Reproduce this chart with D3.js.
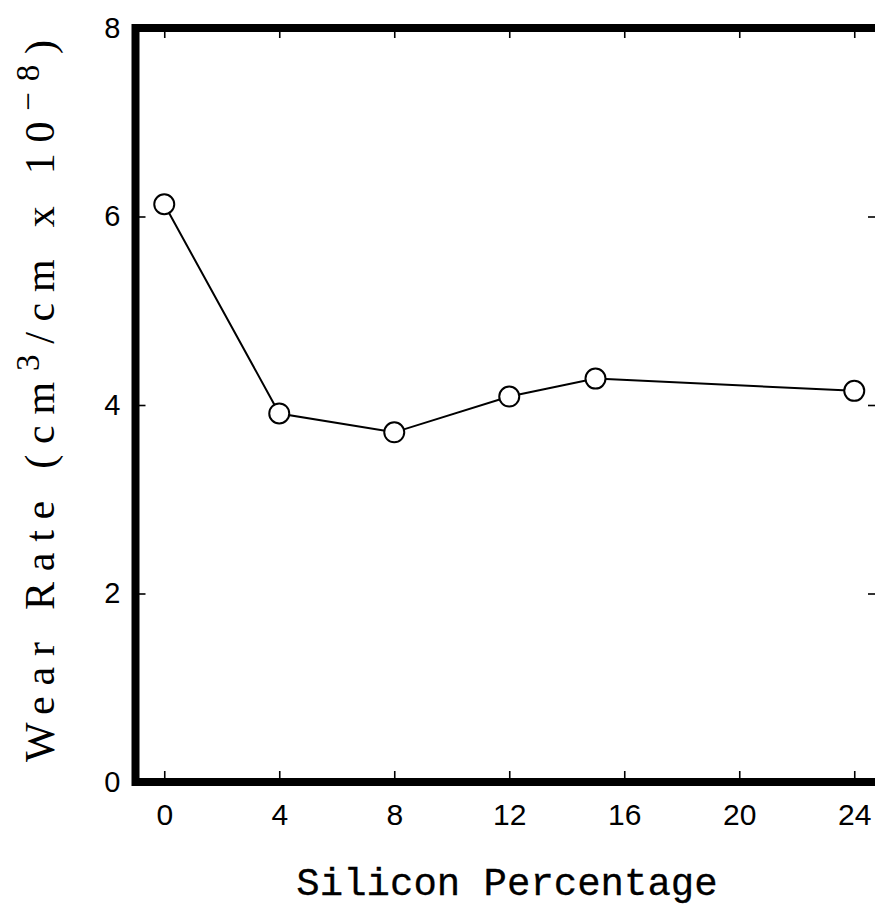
<!DOCTYPE html>
<html>
<head>
<meta charset="utf-8">
<script src="https://cdn.jsdelivr.net/npm/d3@7"></script>
<style>
  body { margin: 0; background: #fff; }
  svg { display: block; }
</style>
</head>
<body>
<script>
// wear rate vs silicon content
const silicon = [0, 4, 8, 12, 15, 24];
const wearRate = [6.13, 3.91, 3.71, 4.09, 4.28, 4.15];
const xTicks = [0, 4, 8, 12, 16, 20, 24];
const yTicks = [0, 2, 4, 6, 8];

const W = 875, H = 915;

const svg = d3.select('body').append('svg')
    .attr('width', W)
    .attr('height', H);

svg.append('rect').attr('width', W).attr('height', H).attr('fill', '#fff');

const x = d3.scaleLinear().domain([-1, 25]).range([135.5, 883]);
const y = d3.scaleLinear().domain([0, 8]).range([782, 28]);

const sansFont = '"Liberation Sans", Arial, sans-serif';

// inner ticks on all four sides
const axBottom = svg.append('g')
    .attr('transform', `translate(0,${y(0)})`)
    .call(d3.axisBottom(x).tickValues(xTicks).tickSize(-11).tickPadding(32));
const axTop = svg.append('g')
    .attr('transform', `translate(0,${y(8)})`)
    .call(d3.axisTop(x).tickValues(xTicks).tickSize(-10).tickFormat(''));
const axLeft = svg.append('g')
    .attr('transform', `translate(${x(-1)},0)`)
    .call(d3.axisLeft(y).tickValues(yTicks).tickSize(-10).tickPadding(15));
const axRight = svg.append('g')
    .attr('transform', `translate(${x(25)},0)`)
    .call(d3.axisRight(y).tickValues(yTicks).tickSize(-15).tickFormat(''));

[axBottom, axTop, axLeft, axRight].forEach(g => {
    g.select('.domain').remove();
    g.selectAll('.tick line').attr('stroke', '#000').attr('stroke-width', 1.6);
});

axBottom.selectAll('.tick text')
    .attr('font-family', sansFont)
    .attr('font-size', 30)
    .attr('fill', '#000')
    .attr('dy', '0.35em')
    .attr('y', 32);

axLeft.selectAll('.tick text')
    .attr('font-family', sansFont)
    .attr('font-size', 29)
    .attr('fill', '#000');

// heavy frame
svg.append('path')
    .attr('d', `M${x(25) + 20},${y(8)}H${x(-1)}V${y(0)}H${x(25) + 20}`)
    .attr('fill', 'none')
    .attr('stroke', '#000')
    .attr('stroke-width', 8)
    .attr('stroke-linejoin', 'miter');

// data line + open circles
const pts = silicon.map((s, i) => [s, wearRate[i]]);

svg.append('path')
    .datum(pts)
    .attr('fill', 'none')
    .attr('stroke', '#000')
    .attr('stroke-width', 2)
    .attr('d', d3.line().x(d => x(d[0])).y(d => y(d[1])));

svg.selectAll('circle.pt')
    .data(pts)
    .join('circle')
    .attr('class', 'pt')
    .attr('cx', d => x(d[0]))
    .attr('cy', d => y(d[1]))
    .attr('r', 10)
    .attr('fill', '#fff')
    .attr('stroke', '#000')
    .attr('stroke-width', 2);

// axis titles
svg.append('text')
    .attr('x', 507)
    .attr('y', 895)
    .attr('text-anchor', 'middle')
    .attr('font-family', '"Liberation Mono", "Courier New", monospace')
    .attr('font-size', 39)
    .attr('fill', '#000')
    .attr('stroke', '#000')
    .attr('stroke-width', 0.3)
    .text('Silicon Percentage');

const yl = svg.append('text')
    .attr('transform', 'translate(54,401) rotate(-90)')
    .attr('text-anchor', 'middle')
    .attr('font-family', '"Liberation Serif", "Times New Roman", serif')
    .attr('font-size', 42)
    .attr('fill', '#000')
    .attr('textLength', 722)
    .attr('lengthAdjust', 'spacing');

yl.append('tspan').text('Wear Rate (cm');
yl.append('tspan').attr('dy', -15).attr('font-size', 33).text('3');
yl.append('tspan').attr('dy', 15).text('/cm x 10');
yl.append('tspan').attr('dy', -15).attr('font-size', 33).text('\u22128');
yl.append('tspan').attr('dy', 15).text(')');
</script>
</body>
</html>
